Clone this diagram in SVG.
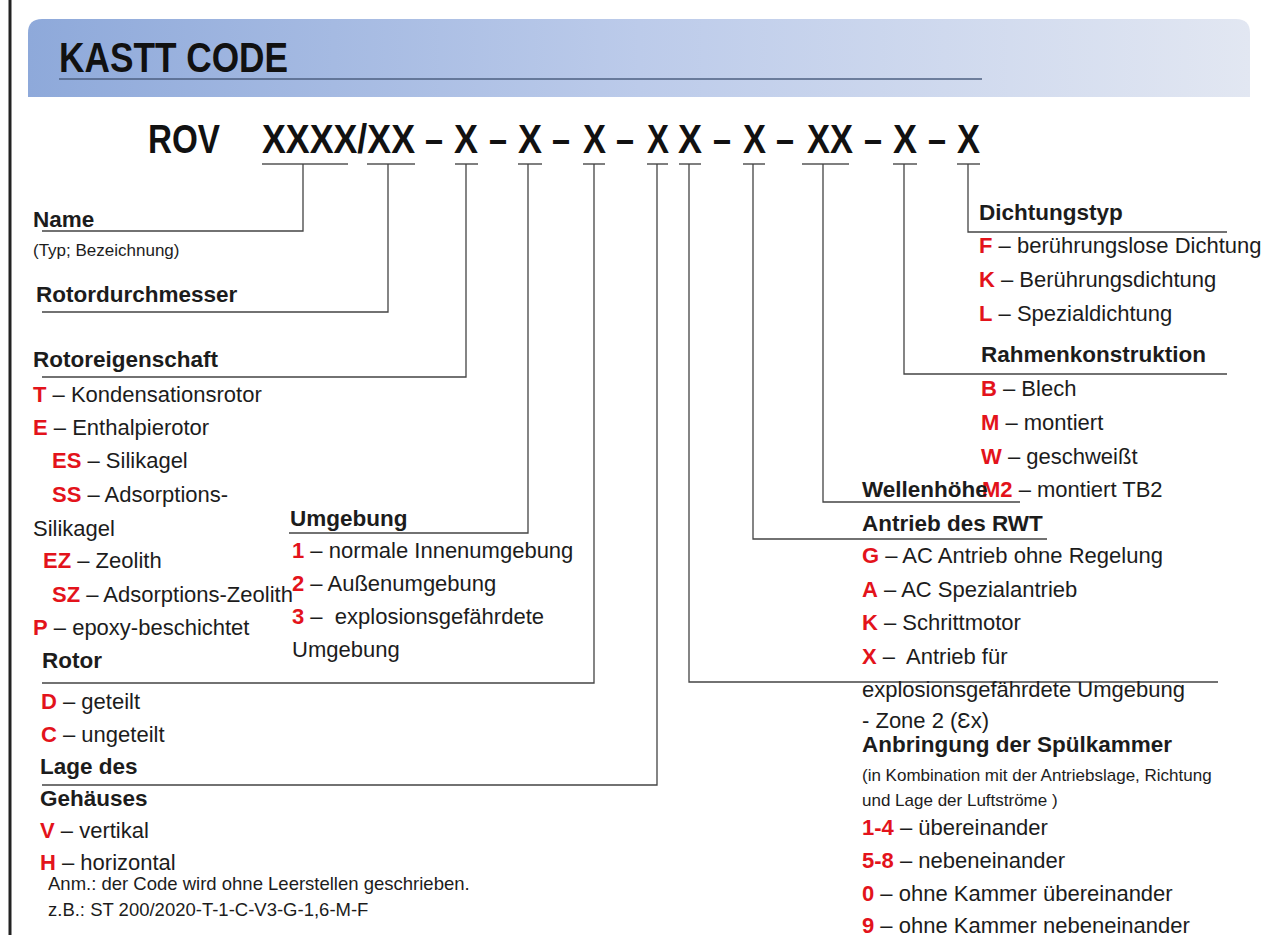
<svg xmlns="http://www.w3.org/2000/svg" width="1271" height="935" viewBox="0 0 1271 935">
<style>
text{font-family:"Liberation Sans",Arial,sans-serif;fill:#1c1c1c}
.h{font-weight:bold;font-size:22.5px}
.b{font-size:22px}
.s{font-size:17px}
.n{font-size:18.5px}
.r{fill:#e3131b;font-weight:bold}
.code{font-weight:bold;font-size:41px;fill:#111}
.ttl{font-weight:bold;font-size:43px;fill:#111}
.ul{stroke:#555;stroke-width:1.5}
#connectors path{fill:none;stroke:#444;stroke-width:1.3}
</style>
<defs>
<linearGradient id="hdr" x1="0" y1="0" x2="1" y2="0">
<stop offset="0" stop-color="#8ea9da"/>
<stop offset="0.5" stop-color="#bccbea"/>
<stop offset="1" stop-color="#e2e7f2"/>
</linearGradient>
</defs>
<rect width="1271" height="935" fill="#fff"/>
<line x1="10" y1="0" x2="10" y2="935" stroke="#222" stroke-width="3"/>
<g id="header">
<path d="M28 97 V33 Q28 19 42 19 H1236 Q1250 19 1250 33 V97 Z" fill="url(#hdr)"/>
<text class="ttl" x="59" y="72" textLength="229" lengthAdjust="spacingAndGlyphs">KASTT CODE</text>
<line x1="59" y1="79" x2="982" y2="79" stroke="#4d5f80" stroke-width="1.5"/>
</g>
<g id="code">
<text class="code" x="148" y="153" textLength="72" lengthAdjust="spacingAndGlyphs">ROV</text>
<text class="code" x="262" y="153" textLength="153" lengthAdjust="spacingAndGlyphs">XXXX/XX</text>
<text class="code" x="454" y="153" textLength="24" lengthAdjust="spacingAndGlyphs">X</text>
<text class="code" x="518" y="153" textLength="24" lengthAdjust="spacingAndGlyphs">X</text>
<text class="code" x="583" y="153" textLength="23" lengthAdjust="spacingAndGlyphs">X</text>
<text class="code" x="647" y="153" textLength="22" lengthAdjust="spacingAndGlyphs">X</text>
<text class="code" x="678" y="153" textLength="24" lengthAdjust="spacingAndGlyphs">X</text>
<text class="code" x="743" y="153" textLength="23" lengthAdjust="spacingAndGlyphs">X</text>
<text class="code" x="807" y="153" textLength="46" lengthAdjust="spacingAndGlyphs">XX</text>
<text class="code" x="893" y="153" textLength="24" lengthAdjust="spacingAndGlyphs">X</text>
<text class="code" x="957" y="153" textLength="23" lengthAdjust="spacingAndGlyphs">X</text>
<g text-anchor="middle">
<text class="code" x="434" y="153" textLength="18" lengthAdjust="spacingAndGlyphs">–</text>
<text class="code" x="498" y="153" textLength="18" lengthAdjust="spacingAndGlyphs">–</text>
<text class="code" x="561" y="153" textLength="18" lengthAdjust="spacingAndGlyphs">–</text>
<text class="code" x="625" y="153" textLength="18" lengthAdjust="spacingAndGlyphs">–</text>
<text class="code" x="722" y="153" textLength="18" lengthAdjust="spacingAndGlyphs">–</text>
<text class="code" x="785" y="153" textLength="18" lengthAdjust="spacingAndGlyphs">–</text>
<text class="code" x="873" y="153" textLength="18" lengthAdjust="spacingAndGlyphs">–</text>
<text class="code" x="937" y="153" textLength="18" lengthAdjust="spacingAndGlyphs">–</text>
</g>
<g class="ul">
<line x1="262" y1="164" x2="348" y2="164"/>
<line x1="367" y1="164" x2="415" y2="164"/>
<line x1="455" y1="164" x2="478" y2="164"/>
<line x1="518" y1="164" x2="542" y2="164"/>
<line x1="583" y1="164" x2="605" y2="164"/>
<line x1="647" y1="164" x2="668" y2="164"/>
<line x1="679" y1="164" x2="701" y2="164"/>
<line x1="743" y1="164" x2="765" y2="164"/>
<line x1="802" y1="164" x2="849" y2="164"/>
<line x1="893" y1="164" x2="917" y2="164"/>
<line x1="957" y1="164" x2="980" y2="164"/>
</g>
</g>
<g id="connectors">
<path d="M303 164 V231 H42"/>
<path d="M388 164 V312 H42"/>
<path d="M466 164 V377 H42"/>
<path d="M528 164 V533 H289"/>
<path d="M594 164 V683 H42"/>
<path d="M657 164 V785 H42"/>
<path d="M689 164 V682 H1218"/>
<path d="M753 164 V539 H1047"/>
<path d="M823 164 V502 H1020"/>
<path d="M904 164 V374 H1227"/>
<path d="M968 164 V232 H1227"/>
</g>
<g id="name">
<text class="h" x="33" y="227">Name</text>
<text class="s" x="33" y="256">(Typ; Bezeichnung)</text>
</g>
<g id="rotordurchmesser">
<text class="h" x="36" y="302">Rotordurchmesser</text>
</g>
<g id="rotoreigenschaft">
<text class="h" x="33" y="367">Rotoreigenschaft</text>
<text class="b" x="33" y="402"><tspan class="r">T</tspan> – Kondensationsrotor</text>
<text class="b" x="33" y="435"><tspan class="r">E</tspan> – Enthalpierotor</text>
<text class="b" x="52" y="468"><tspan class="r">ES</tspan> – Silikagel</text>
<text class="b" x="52" y="502"><tspan class="r">SS</tspan> – Adsorptions-</text>
<text class="b" x="33" y="536">Silikagel</text>
<text class="b" x="43" y="568"><tspan class="r">EZ</tspan> – Zeolith</text>
<text class="b" x="52" y="602"><tspan class="r">SZ</tspan> – Adsorptions-Zeolith</text>
<text class="b" x="33" y="635"><tspan class="r">P</tspan> – epoxy-beschichtet</text>
</g>
<g id="umgebung">
<text class="h" x="290" y="526">Umgebung</text>
<text class="b" x="292" y="558"><tspan class="r">1</tspan> – normale Innenumgebung</text>
<text class="b" x="292" y="591"><tspan class="r">2</tspan> – Außenumgebung</text>
<text class="b" x="292" y="624"><tspan class="r">3</tspan> –&#160; explosionsgefährdete</text>
<text class="b" x="292" y="657">Umgebung</text>
</g>
<g id="rotor">
<text class="h" x="42" y="668">Rotor</text>
<text class="b" x="41" y="709"><tspan class="r">D</tspan> – geteilt</text>
<text class="b" x="41" y="742"><tspan class="r">C</tspan> – ungeteilt</text>
</g>
<g id="lage">
<text class="h" x="40" y="774">Lage des</text>
<text class="h" x="40" y="806">Gehäuses</text>
<text class="b" x="40" y="838"><tspan class="r">V</tspan> – vertikal</text>
<text class="b" x="40" y="870"><tspan class="r">H</tspan> – horizontal</text>
</g>
<g id="note">
<text class="n" x="48" y="890">Anm.: der Code wird ohne Leerstellen geschrieben.</text>
<text class="n" x="48" y="916">z.B.: ST 200/2020-T-1-C-V3-G-1,6-M-F</text>
</g>
<g id="dichtungstyp">
<text class="h" x="979" y="220">Dichtungstyp</text>
<text class="b" x="979" y="253"><tspan class="r">F</tspan> – berührungslose Dichtung</text>
<text class="b" x="979" y="287"><tspan class="r">K</tspan> – Berührungsdichtung</text>
<text class="b" x="979" y="321"><tspan class="r">L</tspan> – Spezialdichtung</text>
</g>
<g id="rahmenkonstruktion">
<text class="h" x="981" y="362">Rahmenkonstruktion</text>
<text class="b" x="981" y="396"><tspan class="r">B</tspan> – Blech</text>
<text class="b" x="981" y="430"><tspan class="r">M</tspan> – montiert</text>
<text class="b" x="981" y="464"><tspan class="r">W</tspan> – geschweißt</text>
<text class="b" x="982" y="497"><tspan class="r">M2</tspan> – montiert TB2</text>
</g>
<g id="wellenhoehe">
<text class="h" x="862" y="497">Wellenhöhe</text>
</g>
<g id="antrieb">
<text class="h" x="862" y="531">Antrieb des RWT</text>
<text class="b" x="862" y="563"><tspan class="r">G</tspan> – AC Antrieb ohne Regelung</text>
<text class="b" x="862" y="597"><tspan class="r">A</tspan> – AC Spezialantrieb</text>
<text class="b" x="862" y="630"><tspan class="r">K</tspan> – Schrittmotor</text>
<text class="b" x="862" y="664"><tspan class="r">X</tspan> –&#160; Antrieb für</text>
<text class="b" x="862" y="697">explosionsgefährdete Umgebung</text>
<text class="b" x="862" y="728">- Zone 2 (Ɛx)</text>
</g>
<g id="spuelkammer">
<text class="h" x="862" y="752">Anbringung der Spülkammer</text>
<text class="s" x="862" y="781">(in Kombination mit der Antriebslage, Richtung</text>
<text class="s" x="862" y="806">und Lage der Luftströme )</text>
<text class="b" x="862" y="835"><tspan class="r">1-4</tspan> – übereinander</text>
<text class="b" x="862" y="868"><tspan class="r">5-8</tspan> – nebeneinander</text>
<text class="b" x="862" y="901"><tspan class="r">0</tspan> – ohne Kammer übereinander</text>
<text class="b" x="862" y="933"><tspan class="r">9</tspan> – ohne Kammer nebeneinander</text>
</g>
</svg>
